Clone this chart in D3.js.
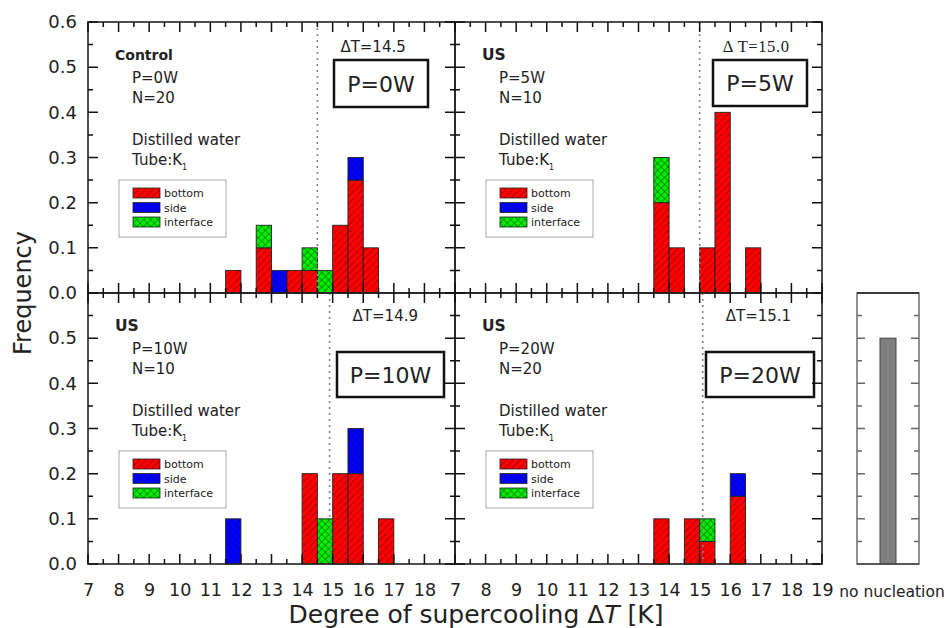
<!DOCTYPE html>
<html>
<head>
<meta charset="utf-8">
<script src="https://cdn.jsdelivr.net/npm/d3@7"></script>
<style>
  body { margin: 0; background: #fff; }
  svg { display: block; }
</style>
</head>
<body>
<svg id="chart"></svg>
<script>
const width = 949;
const height = 628;

// bins are 0.5 K wide, keyed by their lower edge
const binsP0 = [11.5, 12.5, 13, 13.5, 14, 14.5, 15, 15.5, 16];
const bottomP0 = [0.05, 0.10, 0, 0.05, 0.05, 0, 0.15, 0.25, 0.10];
const sideP0 = [0, 0, 0.05, 0, 0, 0, 0, 0.05, 0];
const interfaceP0 = [0, 0.05, 0, 0, 0.05, 0.05, 0, 0, 0];

const binsP5 = [13.5, 14, 15, 15.5, 16.5];
const bottomP5 = [0.2, 0.1, 0.1, 0.4, 0.1];
const sideP5 = [0, 0, 0, 0, 0];
const interfaceP5 = [0.1, 0, 0, 0, 0];

const binsP10 = [11.5, 14, 14.5, 15, 15.5, 16.5];
const bottomP10 = [0, 0.2, 0, 0.2, 0.2, 0.1];
const sideP10 = [0.1, 0, 0, 0, 0.1, 0];
const interfaceP10 = [0, 0, 0.1, 0, 0, 0];

const binsP20 = [13.5, 14.5, 15, 16];
const bottomP20 = [0.1, 0.1, 0.05, 0.15];
const sideP20 = [0, 0, 0, 0.05];
const interfaceP20 = [0, 0, 0.05, 0];

const noNucleation = [{ label: "no nucleation", value: 0.5 }];

const deltaT = [14.5, 15.0, 14.9, 15.1];
const deltaLabels = ["\u0394T=14.5", "\u0394 T=15.0", "\u0394T=14.9", "\u0394T=15.1"];
const powers = ["P=0W", "P=5W", "P=10W", "P=20W"];
const groupNames = ["Control", "US", "US", "US"];
const counts = ["N=20", "N=10", "N=10", "N=20"];

const xTicks = d3.range(7, 20);
const xMinor = d3.range(7.5, 19, 1);
const yTicks = [0, 0.1, 0.2, 0.3, 0.4, 0.5, 0.6];
const yMinor = [0.05, 0.15, 0.25, 0.35, 0.45, 0.55];
const keys = ["bottom", "side", "interface"];
const keyColors = { bottom: "#ff0000", side: "#0000ff", interface: "#00ee00" };

// layout of the four panels
const cols = [[88, 455], [455, 822]];
const rows = [[22, 293], [293, 564]];
const panels = [
  { bins: binsP0, bottom: bottomP0, side: sideP0, interface: interfaceP0, col: 0, row: 0, box: [334, 60, 94, 47] },
  { bins: binsP5, bottom: bottomP5, side: sideP5, interface: interfaceP5, col: 1, row: 0, box: [713, 60, 94, 46] },
  { bins: binsP10, bottom: bottomP10, side: sideP10, interface: interfaceP10, col: 0, row: 1, box: [337, 352, 107, 45] },
  { bins: binsP20, bottom: bottomP20, side: sideP20, interface: interfaceP20, col: 1, row: 1, box: [706, 352, 108, 45] }
];

const svg = d3.select("#chart")
  .attr("width", width)
  .attr("height", height)
  .attr("viewBox", [0, 0, width, height])
  .attr("font-family", "DejaVu Sans, sans-serif")
  .attr("fill", "#222");

// ------------------ HATCH PATTERNS ------------------
const defs = svg.append("defs");
function hatch(id, color, angle, cross) {
  const pat = defs.append("pattern")
    .attr("id", id)
    .attr("patternUnits", "userSpaceOnUse")
    .attr("width", 5)
    .attr("height", 5)
    .attr("patternTransform", `rotate(${angle})`);
  pat.append("rect").attr("width", 5).attr("height", 5).attr("fill", color);
  pat.append("line").attr("x1", 0).attr("y1", 0).attr("x2", 0).attr("y2", 5)
    .attr("stroke", "#200").attr("stroke-width", 0.9).attr("stroke-opacity", 0.8);
  if (cross) {
    pat.append("line").attr("x1", 0).attr("y1", 0).attr("x2", 5).attr("y2", 0)
      .attr("stroke", "#020").attr("stroke-width", 0.9).attr("stroke-opacity", 0.8);
  }
}
hatch("h-bottom", keyColors.bottom, 45, false);
hatch("h-side", keyColors.side, -45, false);
hatch("h-interface", keyColors.interface, 45, true);

// inward tick marks, collected and drawn last as one path per colour
const tickPaths = { "#111": d3.path(), "#666": d3.path() };
function tickMarks(scale, values, len, side, pos, color) {
  const path = tickPaths[color];
  values.forEach(v => {
    const c = scale(v);
    if (side === "bottom") { path.moveTo(c, pos); path.lineTo(c, pos - len); }
    if (side === "top") { path.moveTo(c, pos); path.lineTo(c, pos + len); }
    if (side === "left") { path.moveTo(pos, c); path.lineTo(pos + len, c); }
    if (side === "right") { path.moveTo(pos, c); path.lineTo(pos - len, c); }
  });
}

// ------------------ PANELS ------------------
panels.forEach((p, i) => {
  const [x0, x1] = cols[p.col];
  const [y0, y1] = rows[p.row];

  const x = d3.scaleLinear().domain([7, 19]).range([x0, x1]);
  const y = d3.scaleLinear().domain([0, 0.6]).range([y1, y0]);

  const g = svg.append("g");

  // stacked bars
  const table = p.bins.map((b, j) => ({ bin: b, bottom: p.bottom[j], side: p.side[j], interface: p.interface[j] }));
  const series = d3.stack().keys(keys)(table);

  g.selectAll("g.layer")
    .data(series)
    .join("g")
      .attr("class", "layer")
      .attr("fill", d => `url(#h-${d.key})`)
    .selectAll("rect")
    .data(d => d.filter(v => v[1] > v[0]))
    .join("rect")
      .attr("x", d => x(d.data.bin))
      .attr("width", d => x(d.data.bin + 0.5) - x(d.data.bin))
      .attr("y", d => y(d[1]))
      .attr("height", d => y(d[0]) - y(d[1]))
      .attr("stroke", "#222")
      .attr("stroke-width", 0.9);

  // dotted line at mean supercooling
  g.append("line")
    .attr("x1", x(deltaT[i])).attr("x2", x(deltaT[i]))
    .attr("y1", y0).attr("y2", y1)
    .attr("stroke", "#888")
    .attr("stroke-width", 1.6)
    .attr("stroke-dasharray", "2,4");

  // frame ticks (inward on all sides)
  tickMarks(x, xTicks, 10, "bottom", y1, "#111");
  tickMarks(x, xMinor, 5, "bottom", y1, "#111");
  tickMarks(x, xTicks, 10, "top", y0, "#111");
  tickMarks(x, xMinor, 5, "top", y0, "#111");
  tickMarks(y, yTicks, 10, "left", x0, "#111");
  tickMarks(y, yMinor, 5, "left", x0, "#111");
  tickMarks(y, yTicks, 10, "right", x1, "#111");
  tickMarks(y, yMinor, 5, "right", x1, "#111");

  g.append("rect")
    .attr("x", x0).attr("y", y0)
    .attr("width", x1 - x0).attr("height", y1 - y0)
    .attr("fill", "none")
    .attr("stroke", "#222")
    .attr("stroke-width", 1.6);

  // tick labels
  if (p.col === 0) {
    const yl = g.append("g")
      .attr("transform", `translate(${x0},0)`)
      .call(d3.axisLeft(y)
        .tickValues(p.row === 0 ? yTicks : yTicks.slice(0, 6))
        .tickSize(0).tickPadding(11)
        .tickFormat(d3.format(".1f")));
    yl.select(".domain").remove();
    yl.selectAll("text").attr("font-family", "DejaVu Sans").attr("font-size", 18).attr("fill", "#222");
  }
  if (p.row === 1) {
    const xl = g.append("g")
      .attr("transform", `translate(0,${y1})`)
      .call(d3.axisBottom(x)
        .tickValues(p.col === 0 ? xTicks.slice(0, 12) : xTicks)
        .tickSize(0).tickPadding(20)
        .tickFormat(d3.format("d")));
    xl.select(".domain").remove();
    xl.selectAll("text").attr("font-family", "DejaVu Sans").attr("font-size", 17.5).attr("fill", "#222");
  }

  // annotations
  g.append("text")
    .attr("x", x0 + 27).attr("y", y0 + 38)
    .attr("font-size", i === 0 ? 14 : 15.5).attr("font-weight", "bold")
    .text(groupNames[i]);
  g.append("text").attr("x", x0 + 44).attr("y", y0 + 61).attr("font-size", 15).text(powers[i]);
  g.append("text").attr("x", x0 + 44).attr("y", y0 + 81).attr("font-size", 15).text(counts[i]);
  g.append("text").attr("x", x0 + 44).attr("y", y0 + 123).attr("font-size", 15).text("Distilled water");
  const tube = g.append("text").attr("x", x0 + 44).attr("y", y0 + 143).attr("font-size", 15).text("Tube:K");
  tube.append("tspan").attr("dy", 5).attr("font-size", 8).text("1");

  const dl = g.append("text")
    .attr("x", x(deltaT[i]) + 23)
    .attr("y", y0 + (p.row === 0 ? 30 : 28))
    .attr("font-size", 15)
    .text(deltaLabels[i]);
  if (i === 1) dl.attr("font-family", "Liberation Serif, serif").attr("font-size", 16.5).attr("letter-spacing", 0.6);

  // power box
  const [bx, by, bw, bh] = p.box;
  g.append("rect")
    .attr("x", bx).attr("y", by).attr("width", bw).attr("height", bh)
    .attr("fill", "#fff").attr("stroke", "#111").attr("stroke-width", 2.5);
  g.append("text")
    .attr("x", bx + bw / 2).attr("y", by + bh / 2 + 8)
    .attr("text-anchor", "middle")
    .attr("font-size", 22)
    .text(powers[i]);

  // legend
  const lg = g.append("g").attr("transform", `translate(${x0 + 31},${y0 + 158})`);
  lg.append("rect")
    .attr("width", 107).attr("height", 57)
    .attr("fill", "#fff").attr("stroke", "#aaa").attr("stroke-width", 1);
  keys.forEach((k, j) => {
    lg.append("rect")
      .attr("x", 14).attr("y", 8 + j * 14.5)
      .attr("width", 27).attr("height", 10)
      .attr("fill", `url(#h-${k})`)
      .attr("stroke", "#222").attr("stroke-width", 0.8);
    lg.append("text")
      .attr("x", 45).attr("y", 17 + j * 14.5)
      .attr("font-size", 11)
      .text(k);
  });
});

// ------------------ NO NUCLEATION PANEL ------------------
const nx = d3.scaleBand().domain(noNucleation.map(d => d.label)).range([857, 919]).padding(0.59);
const ny = d3.scaleLinear().domain([0, 0.6]).range([564, 293]);
const ng = svg.append("g");

tickMarks(ny, yTicks.slice(1, 6), 8, "left", 857, "#666");
tickMarks(ny, yMinor, 5, "left", 857, "#666");
tickMarks(ny, yTicks.slice(1, 6), 8, "right", 919, "#666");
tickMarks(ny, yMinor, 5, "right", 919, "#666");

ng.selectAll("rect.bar")
  .data(noNucleation)
  .join("rect")
    .attr("class", "bar")
    .attr("x", d => nx(d.label))
    .attr("width", nx.bandwidth())
    .attr("y", d => ny(d.value))
    .attr("height", d => ny(0) - ny(d.value))
    .attr("fill", "#7f7f7f")
    .attr("stroke", "#444")
    .attr("stroke-width", 1);

ng.append("rect")
  .attr("x", 857).attr("y", 293).attr("width", 62).attr("height", 271)
  .attr("fill", "none").attr("stroke", "#777").attr("stroke-width", 1.6);
ng.append("line").attr("x1", 857).attr("x2", 919).attr("y1", 293).attr("y2", 293)
  .attr("stroke", "#222").attr("stroke-width", 1.6);
ng.append("line").attr("x1", 857).attr("x2", 919).attr("y1", 564).attr("y2", 564)
  .attr("stroke", "#444").attr("stroke-width", 1.6);

ng.append("text")
  .attr("x", 892).attr("y", 597)
  .attr("text-anchor", "middle")
  .attr("font-size", 15.5)
  .text(noNucleation[0].label);

// ticks on top of everything
Object.entries(tickPaths).forEach(([color, path]) => {
  svg.append("path")
    .attr("d", path.toString())
    .attr("fill", "none")
    .attr("stroke", color)
    .attr("stroke-width", 1.5);
});

// ------------------ AXIS TITLES ------------------
svg.append("text")
  .attr("transform", "translate(31,293) rotate(-90)")
  .attr("text-anchor", "middle")
  .attr("font-size", 24)
  .text("Frequency");

const xt = svg.append("text")
  .attr("x", 476).attr("y", 623)
  .attr("text-anchor", "middle")
  .attr("font-size", 25);
xt.append("tspan").text("Degree of supercooling \u0394");
xt.append("tspan").attr("font-style", "italic").text("T");
xt.append("tspan").text(" [K]");
</script>
</body>
</html>
